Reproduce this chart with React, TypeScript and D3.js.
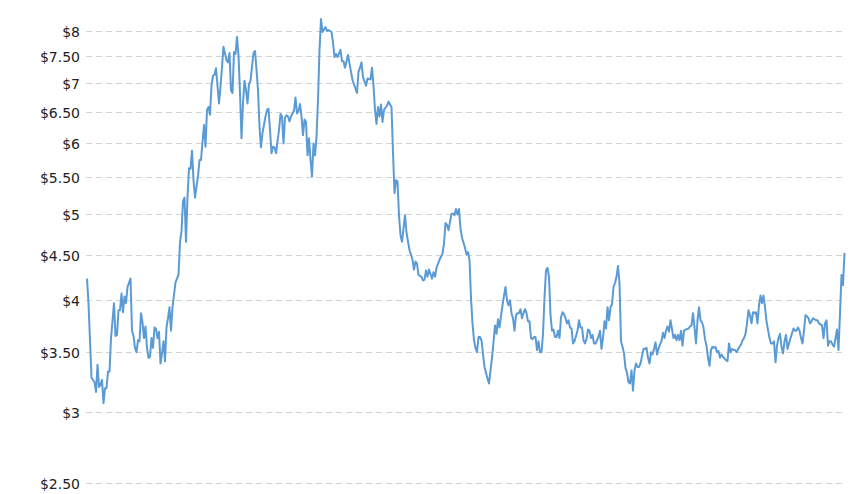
import React from "react";
import * as d3 from "d3";

// Weekly closing prices (USD per bushel), weeks counted from START_DATE
const START_DATE = "2009-08-14";

const weekOffsets = [
  0, 1, 3, 5, 6, 7, 8, 9, 10, 11, 12, 13, 14, 15, 16, 18, 19, 20, 21, 22, 23, 24, 25, 26, 27, 29,
  30, 31, 32, 33, 34, 35, 36, 37, 38, 39, 40, 41, 42, 43, 44, 45, 46, 47, 48, 49, 50, 51, 52, 53,
  54, 55, 56, 57, 59, 61, 62, 63, 64, 65, 66, 67, 68, 69, 70, 71, 72, 74, 75, 76, 77, 78, 79, 80,
  81, 82, 83, 84, 85, 86, 88, 89, 91, 93, 94, 95, 96, 97, 98, 99, 100, 101, 102, 103, 104, 105,
  106, 107, 108, 109, 111, 112, 113, 114, 115, 116, 117, 119, 120, 121, 122, 123, 124, 125, 126,
  128, 129, 130, 131, 132, 133, 134, 135, 136, 137, 138, 139, 140, 141, 142, 143, 144, 145, 146,
  147, 148, 149, 150, 151, 152, 153, 154, 155, 156, 157, 159, 160, 161, 163, 164, 165, 166, 167,
  169, 170, 171, 172, 174, 175, 177, 180, 181, 182, 183, 184, 186, 187, 189, 190, 191, 192, 193,
  194, 195, 196, 197, 198, 200, 201, 203, 204, 205, 206, 207, 208, 209, 210, 212, 213, 215, 216,
  217, 218, 219, 220, 221, 223, 224, 225, 226, 227, 228, 230, 231, 232, 233, 235, 237, 238, 239,
  240, 241, 243, 244, 245, 246, 247, 248, 249, 250, 252, 253, 254, 255, 256, 257, 258, 259, 260,
  261, 262, 263, 264, 265, 267, 268, 269, 270, 271, 272, 273, 274, 275, 276, 277, 278, 279, 280,
  281, 282, 283, 284, 285, 286, 287, 288, 289, 290, 291, 292, 293, 294, 295, 296, 297, 298, 299,
  300, 301, 302, 303, 304, 305, 306, 307, 308, 309, 310, 311, 312, 313, 314, 315, 316, 317, 318,
  319, 320, 321, 322, 323, 324, 325, 327, 328, 329, 330, 331, 332, 333, 334, 335, 336, 337, 338,
  339, 341, 342, 343, 344, 345, 346, 347, 348, 349, 350, 351, 352, 353, 354, 355, 356, 357, 358,
  359, 360, 361, 362, 363, 364, 365, 366, 367, 368, 369, 371, 372, 373, 374, 375, 376, 377, 378,
  379, 380, 381, 382, 383, 384, 385, 386, 387, 388, 389, 391, 392, 393, 394, 395, 396, 397, 398,
  399, 401, 402, 403, 404, 405, 406, 407, 408, 409, 410, 411, 412, 413, 414, 415, 416, 417, 418,
  419, 420, 421, 422, 423, 424, 426, 427, 428, 429, 430, 431, 432, 433, 435, 436, 437, 438, 439,
  440, 441, 442, 443, 444, 445, 446, 447, 448, 449, 450, 451, 452, 453, 455, 456, 457, 458, 459,
  460, 461, 462, 463, 464, 465, 466, 467, 468, 469, 471, 472, 473, 474, 475, 476, 477, 478, 479,
  480, 481, 482, 483, 484, 485, 486, 487, 488, 489, 490, 491, 492, 493, 494, 495, 496, 497, 498,
  500, 501, 502, 503, 504, 505,
];

const prices = [
  4.23, 3.97, 3.28, 3.24, 3.16, 3.39, 3.2, 3.22, 3.26, 3.07, 3.19, 3.19, 3.33, 3.33, 3.63, 3.97, 3.65, 3.66, 3.9, 3.9, 4.07, 3.88, 4.04, 3.97, 4.14, 4.23,
  3.7, 3.65, 3.54, 3.5, 3.61, 3.6, 3.87, 3.78, 3.63, 3.74, 3.54, 3.45, 3.46, 3.63, 3.54, 3.73, 3.72, 3.63, 3.69, 3.4, 3.49, 3.6, 3.42, 3.73,
  3.82, 3.93, 3.7, 3.93, 4.19, 4.27, 4.65, 4.78, 5.16, 5.21, 4.65, 5.22, 5.62, 5.61, 5.88, 5.45, 5.21, 5.51, 5.74, 5.74, 6.01, 6.28, 5.94, 6.53,
  6.58, 6.45, 6.95, 7.13, 7.15, 7.27, 6.64, 6.93, 7.68, 7.42, 7.38, 7.56, 6.87, 6.82, 7.58, 7.54, 7.88, 7.51, 6.82, 6.07, 6.64, 7.04,
  6.87, 6.64, 6.98, 7.04, 7.56, 7.6, 7.24, 6.87, 6.25, 5.93, 6.15, 6.42, 6.53, 6.55, 6.2, 5.84, 5.94, 5.93, 5.84,
  6.2, 6.46, 6.42, 5.99, 6.4, 6.44, 6.42, 6.34, 6.42, 6.47, 6.52, 6.74, 6.47, 6.51, 6.63, 6.42, 6.12, 6.37, 6.33,
  5.81, 6.07, 5.74, 5.5, 5.99, 5.81, 6.09, 6.7, 7.62, 8.25, 7.98, 8.08, 8.0, 8.02, 7.98, 7.77, 7.48, 7.54, 7.48,
  7.62, 7.4, 7.4, 7.28, 7.52, 7.36, 7.05, 6.82, 7.2, 7.28, 7.38, 7.1, 6.95, 7.08, 7.06, 7.28, 6.95, 6.53, 6.3,
  6.58, 6.42, 6.62, 6.33, 6.53, 6.6, 6.67, 6.58, 5.85, 5.27, 5.45, 5.43, 4.98, 4.73, 4.65, 4.98, 4.76, 4.55, 4.5,
  4.44, 4.33, 4.42, 4.4, 4.27, 4.25, 4.21, 4.22, 4.32, 4.25, 4.33, 4.23, 4.3, 4.25, 4.35, 4.44, 4.51, 4.63, 4.88,
  4.86, 4.79, 5.0, 5.0, 4.98, 5.06, 4.99, 5.06, 4.81, 4.7, 4.58, 4.5, 4.53, 4.44, 4.03, 3.77, 3.61, 3.54, 3.5,
  3.64, 3.64, 3.61, 3.48, 3.37, 3.27, 3.23, 3.34, 3.45, 3.59, 3.75, 3.67, 3.81, 3.73, 3.84, 3.95, 4.05, 4.14, 4.0,
  3.95, 4.0, 3.87, 3.82, 3.7, 3.85, 3.87, 3.87, 3.91, 3.82, 3.87, 3.91, 3.87, 3.79, 3.79, 3.63, 3.62, 3.64, 3.64,
  3.52, 3.6, 3.5, 3.5, 3.67, 4.03, 4.32, 4.35, 4.25, 3.85, 3.7, 3.71, 3.64, 3.64, 3.7, 3.63, 3.83, 3.88, 3.86,
  3.82, 3.77, 3.8, 3.73, 3.72, 3.58, 3.6, 3.7, 3.8, 3.73, 3.73, 3.61, 3.58, 3.62, 3.71, 3.7, 3.63, 3.66, 3.58,
  3.58, 3.64, 3.7, 3.53, 3.63, 3.79, 3.72, 3.93, 3.8, 3.93, 3.96, 4.14, 4.18, 4.25, 4.37, 4.18, 3.6, 3.55, 3.49,
  3.36, 3.32, 3.24, 3.23, 3.34, 3.17, 3.34, 3.4, 3.37, 3.37, 3.4, 3.53, 3.53, 3.54, 3.45, 3.4, 3.5, 3.48, 3.53,
  3.59, 3.48, 3.53, 3.57, 3.6, 3.68, 3.63, 3.7, 3.74, 3.69, 3.8, 3.63, 3.66, 3.61, 3.66, 3.61, 3.7, 3.56, 3.7,
  3.71, 3.72, 3.74, 3.75, 3.87, 3.73, 3.58, 3.8, 3.93, 3.8, 3.78, 3.73, 3.62, 3.56, 3.45, 3.38, 3.52, 3.55, 3.54,
  3.55, 3.5, 3.51, 3.45, 3.48, 3.46, 3.43, 3.42, 3.58, 3.5, 3.53, 3.52, 3.52, 3.5, 3.55, 3.57, 3.61, 3.63, 3.67,
  3.77, 3.9, 3.85, 3.77, 3.88, 3.87, 3.88, 3.77, 3.95, 4.05, 3.97, 4.05, 3.93, 3.79, 3.63, 3.58, 3.58, 3.6, 3.41,
  3.56, 3.63, 3.67, 3.55, 3.49, 3.6, 3.66, 3.53, 3.58, 3.63, 3.72, 3.7, 3.7, 3.73, 3.7, 3.63, 3.58, 3.7, 3.85,
  3.84, 3.82, 3.77, 3.79, 3.82, 3.81, 3.8, 3.8, 3.77, 3.76, 3.75, 3.63, 3.77, 3.8, 3.56, 3.6, 3.6, 3.57, 3.55,
  3.71, 3.52, 3.87, 4.27, 4.16, 4.52,
];

const yTickValues = [2.5, 3, 3.5, 4, 4.5, 5, 5.5, 6, 6.5, 7, 7.5, 8];
const yTickLabels = ["$2.50", "$3", "$3.50", "$4", "$4.50", "$5", "$5.50", "$6", "$6.50", "$7", "$7.50", "$8"];

const WIDTH = 860;
const HEIGHT = 494;

export default function App() {
  const start = new Date(START_DATE + "T00:00:00");
  const data = weekOffsets.map((w, i) => ({
    date: d3.timeWeek.offset(start, w),
    value: prices[i],
  }));

  const x = d3
    .scaleTime()
    .domain([start, d3.timeWeek.offset(start, weekOffsets[weekOffsets.length - 1])])
    .range([87, 844.5]);

  const y = d3.scaleLog().domain([2.5, 8]).range([483, 31]);

  const line = d3
    .line<{ date: Date; value: number }>()
    .x((d) => x(d.date))
    .y((d) => y(d.value))
    .curve(d3.curveLinear);

  return (
    <svg
      width={WIDTH}
      height={HEIGHT}
      style={{ position: "absolute", left: 0, top: 0, background: "#fff" }}
    >
      <g>
        {yTickValues.map((v, i) => (
          <g key={v}>
            <line
              x1={86}
              x2={843}
              y1={Math.round(y(v)) + 0.5}
              y2={Math.round(y(v)) + 0.5}
              stroke="#d4d4d4"
              strokeWidth={1}
              strokeDasharray="6,4"
            />
            <text
              x={80}
              y={y(v) + 6}
              textAnchor="end"
              fontFamily="'DejaVu Sans', Verdana, sans-serif"
              fontSize={14}
              fill="#222"
            >
              {yTickLabels[i]}
            </text>
          </g>
        ))}
      </g>
      <path
        d={line(data) || ""}
        fill="none"
        stroke="#5b9bd5"
        strokeWidth={2}
        strokeLinejoin="round"
      />
    </svg>
  );
}
